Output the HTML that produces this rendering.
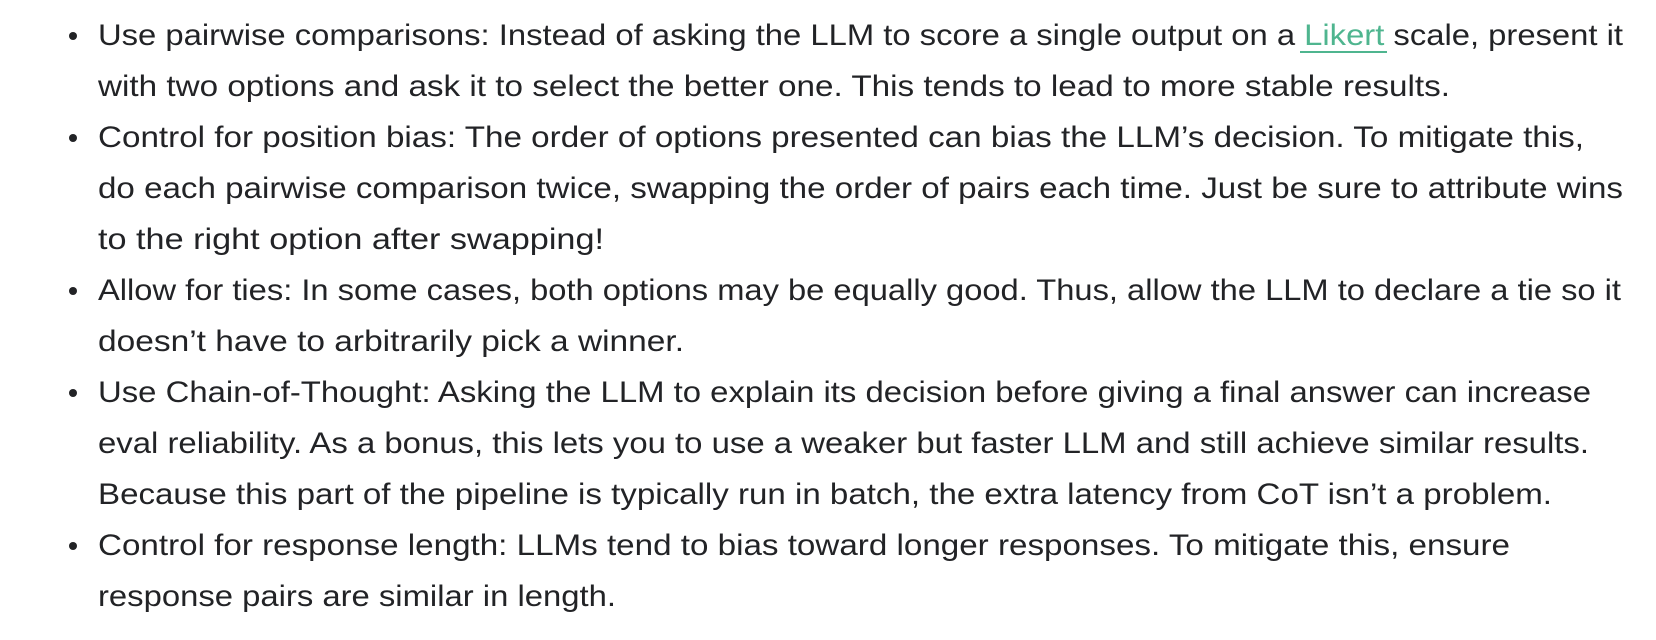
<!DOCTYPE html>
<html><head><meta charset="utf-8"><style>
html,body{margin:0;padding:0;background:#fff;width:1656px;height:640px;overflow:hidden}
svg text{font-family:"Liberation Sans",sans-serif;font-size:30px;fill:#222326}
</style></head><body>
<svg width="1656" height="640" viewBox="0 0 1656 640" xmlns="http://www.w3.org/2000/svg">
<g fill="#222326">
<circle cx="73" cy="36" r="4"/>
<circle cx="73" cy="138" r="4"/>
<circle cx="73" cy="291" r="4"/>
<circle cx="73" cy="393" r="4"/>
<circle cx="73" cy="546" r="4"/>
</g>
<text x="98" y="45" textLength="1525" lengthAdjust="spacingAndGlyphs">Use pairwise comparisons: Instead of asking the LLM to score a single output on a <tspan style="fill:#4fb58f">Likert</tspan> scale, present it</text>
<line x1="1300" y1="52" x2="1387" y2="52" stroke="#4fb58f" stroke-width="2"/>
<text x="98" y="96" textLength="1352" lengthAdjust="spacingAndGlyphs">with two options and ask it to select the better one. This tends to lead to more stable results.</text>
<text x="98" y="147" textLength="1486" lengthAdjust="spacingAndGlyphs">Control for position bias: The order of options presented can bias the LLM’s decision. To mitigate this,</text>
<text x="98" y="198" textLength="1525" lengthAdjust="spacingAndGlyphs">do each pairwise comparison twice, swapping the order of pairs each time. Just be sure to attribute wins</text>
<text x="98" y="249" textLength="506" lengthAdjust="spacingAndGlyphs">to the right option after swapping!</text>
<text x="98" y="300" textLength="1523" lengthAdjust="spacingAndGlyphs">Allow for ties: In some cases, both options may be equally good. Thus, allow the LLM to declare a tie so it</text>
<text x="98" y="351" textLength="586" lengthAdjust="spacingAndGlyphs">doesn’t have to arbitrarily pick a winner.</text>
<text x="98" y="402" textLength="1493" lengthAdjust="spacingAndGlyphs">Use Chain-of-Thought: Asking the LLM to explain its decision before giving a final answer can increase</text>
<text x="98" y="453" textLength="1491" lengthAdjust="spacingAndGlyphs">eval reliability. As a bonus, this lets you to use a weaker but faster LLM and still achieve similar results.</text>
<text x="98" y="504" textLength="1454" lengthAdjust="spacingAndGlyphs">Because this part of the pipeline is typically run in batch, the extra latency from CoT isn’t a problem.</text>
<text x="98" y="555" textLength="1412" lengthAdjust="spacingAndGlyphs">Control for response length: LLMs tend to bias toward longer responses. To mitigate this, ensure</text>
<text x="98" y="606" textLength="518" lengthAdjust="spacingAndGlyphs">response pairs are similar in length.</text>
</svg>
</body></html>
